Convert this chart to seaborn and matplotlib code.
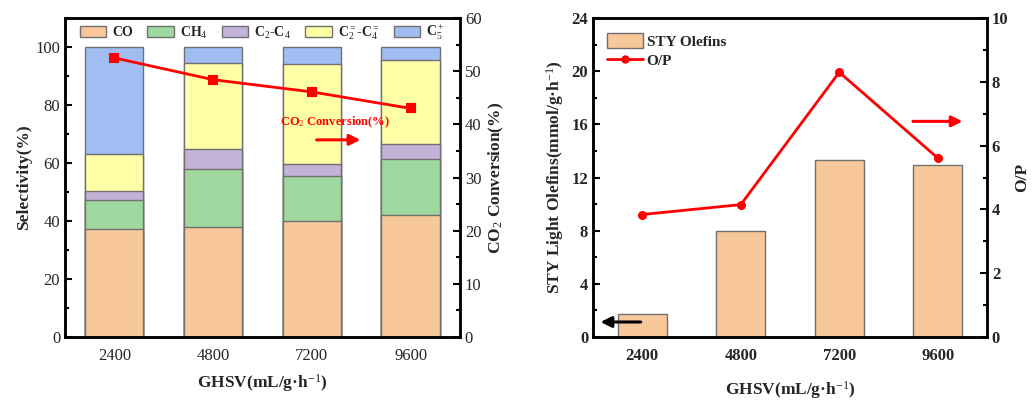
import numpy as np
import pandas as pd
import matplotlib
matplotlib.use("Agg")
import matplotlib.pyplot as plt
from matplotlib.patches import Patch
from matplotlib.lines import Line2D
from matplotlib.ticker import FixedLocator, MultipleLocator
import seaborn as sns

# ---------------- data ----------------
ghsv = ["2400", "4800", "7200", "9600"]
sel_co = [37.1, 38.0, 40.1, 42.1]
sel_ch4 = [10.0, 19.8, 15.5, 19.2]
sel_c2c4 = [3.3, 7.1, 4.2, 5.1]
sel_olef = [12.6, 29.7, 34.5, 29.2]
sel_c5 = [37.0, 5.4, 5.7, 4.4]
co2_conv = [52.5, 48.4, 46.1, 43.0]

sty_olefins = [1.76, 7.98, 13.35, 12.94]
op_ratio = [3.84, 4.15, 8.30, 5.61]

species = ["CO", "CH$_4$", "C$_2$-C$_4$", "C$_2^=$-C$_4^=$", "C$_5^+$"]
colors = ["#F9C89A", "#A0D9A0", "#C3B3D9", "#FFFFA8", "#A0BEF2"]

# ---------------- style ----------------
sns.set_theme(style="white")
plt.rcParams["font.family"] = ["Liberation Serif", "DejaVu Serif"]
plt.rcParams["mathtext.fontset"] = "custom"
plt.rcParams["mathtext.rm"] = "Liberation Serif"
plt.rcParams["mathtext.it"] = "Liberation Serif:italic"
plt.rcParams["mathtext.bf"] = "Liberation Serif:bold"

fig = plt.figure(figsize=(10.35, 4.03), dpi=100)
ax1 = fig.add_axes([0.0628, 0.1638, 0.3816, 0.7915])
ax3 = fig.add_axes([0.573, 0.1638, 0.3806, 0.7915])

edge = "#707070"

# ---------------- left panel: stacked selectivity ----------------
layers = [sel_co, sel_ch4, sel_c2c4, sel_olef, sel_c5]
cum = np.cumsum(np.array(layers), axis=0)
for i in range(len(layers) - 1, -1, -1):
    df = pd.DataFrame({"GHSV": ghsv, "val": cum[i]})
    sns.barplot(data=df, x="GHSV", y="val", order=ghsv, color=colors[i],
                saturation=1, width=0.59, edgecolor=edge, linewidth=1.0,
                ax=ax1)
ax1.set_xlim(-0.5, 3.5)
ax1.set_ylim(0, 110)
ax1.set_yticks([0, 20, 40, 60, 80, 100])
ax1.yaxis.set_minor_locator(MultipleLocator(10))
ax1.xaxis.set_minor_locator(FixedLocator([0.5, 1.5, 2.5]))
ax1.set_ylabel("Selectivity(%)", fontsize=12.5, fontweight="bold", labelpad=2)
ax1.set_xlabel("GHSV(mL/g·h$^{-1}$)", fontsize=12.5, fontweight="bold", labelpad=6)

ax2 = ax1.twinx()
dfc = pd.DataFrame({"GHSV": ghsv, "conv": co2_conv})
sns.pointplot(data=dfc, x="GHSV", y="conv", order=ghsv, color="#FF0000",
              markers="s", markersize=6, linewidth=2, ax=ax2)
ax2.set_xlim(-0.5, 3.5)
ax2.set_ylim(0, 60)
ax2.set_yticks([0, 10, 20, 30, 40, 50, 60])
ax2.yaxis.set_minor_locator(MultipleLocator(5))
ax2.set_ylabel("CO$_2$ Conversion(%)", fontsize=12.5, fontweight="bold", labelpad=4)
ax2.set_xlabel("")

handles = [Patch(facecolor=c, edgecolor=edge, linewidth=1.0) for c in colors]
leg = ax1.legend(handles, species, loc="upper center", bbox_to_anchor=(0.5, 1.015),
                 ncol=5, frameon=False, prop={"weight": "bold", "size": 10},
                 handlelength=1.9, handleheight=0.9, columnspacing=1.0,
                 handletextpad=0.45, borderaxespad=0.3)

ax2.annotate("CO$_2$ Conversion(%)", xy=(0.684, 0.674), xycoords="axes fraction",
             ha="center", va="center", color="#FF0000", fontsize=9,
             fontweight="bold")
ax2.annotate("", xy=(0.755, 0.618), xytext=(0.63, 0.618), xycoords="axes fraction",
             arrowprops=dict(arrowstyle="-|>", color="#FF0000", lw=2.2,
                             mutation_scale=16))

for ax in (ax1, ax2):
    for s in ax.spines.values():
        s.set_linewidth(1.8)
        s.set_color("black")
    ax.tick_params(which="both", direction="in", color="black", width=1.5,
                   labelsize=12)
    ax.tick_params(which="major", length=5)
    ax.tick_params(which="minor", length=3)
ax1.tick_params(axis="x", pad=8)

# ---------------- right panel: STY & O/P ----------------
dfs = pd.DataFrame({"GHSV": ghsv, "sty": sty_olefins})
sns.barplot(data=dfs, x="GHSV", y="sty", order=ghsv, color=colors[0],
            saturation=1, width=0.5, edgecolor=edge, linewidth=1.0, ax=ax3)
ax3.set_xlim(-0.5, 3.5)
ax3.set_ylim(0, 24)
ax3.set_yticks([0, 4, 8, 12, 16, 20, 24])
ax3.yaxis.set_minor_locator(MultipleLocator(2))
ax3.xaxis.set_minor_locator(FixedLocator([0.5, 1.5, 2.5]))
ax3.set_ylabel("STY Light Olefins(mmol/g·h$^{-1}$)", fontsize=12.5,
               fontweight="bold", labelpad=4)
ax3.set_xlabel("GHSV(mL/g·h$^{-1}$)", fontsize=12.5, fontweight="bold",
               labelpad=11)

ax4 = ax3.twinx()
dfo = pd.DataFrame({"GHSV": ghsv, "op": op_ratio})
sns.pointplot(data=dfo, x="GHSV", y="op", order=ghsv, color="#FF0000",
              markers="o", markersize=5, linewidth=2, ax=ax4)
ax4.set_xlim(-0.5, 3.5)
ax4.set_ylim(0, 10)
ax4.set_yticks([0, 2, 4, 6, 8, 10])
ax4.yaxis.set_minor_locator(MultipleLocator(1))
ax4.set_ylabel("O/P", fontsize=12.5, fontweight="bold", labelpad=4)
ax4.set_xlabel("")

h2 = [Patch(facecolor=colors[0], edgecolor=edge, linewidth=1.0),
      Line2D([], [], color="#FF0000", lw=2, marker="o", markersize=5)]
ax3.legend(h2, ["STY Olefins", "O/P"], loc="upper left", frameon=False,
           prop={"weight": "bold", "size": 11}, handlelength=2.4,
           handleheight=1.1, handletextpad=0.2, labelspacing=0.25,
           borderaxespad=0.5, bbox_to_anchor=(0.0, 0.995))

ax4.annotate("", xy=(0.012, 0.047), xytext=(0.128, 0.047), xycoords="axes fraction",
             arrowprops=dict(arrowstyle="-|>", color="black", lw=2.2,
                             mutation_scale=16))
ax4.annotate("", xy=(0.945, 0.676), xytext=(0.805, 0.676), xycoords="axes fraction",
             arrowprops=dict(arrowstyle="-|>", color="#FF0000", lw=2.2,
                             mutation_scale=16))

for ax in (ax3, ax4):
    for s in ax.spines.values():
        s.set_linewidth(1.8)
        s.set_color("black")
    ax.tick_params(which="both", direction="in", color="black", width=1.5,
                   labelsize=12)
    ax.tick_params(which="major", length=5)
    ax.tick_params(which="minor", length=3)
    for lab in ax.get_xticklabels() + ax.get_yticklabels():
        lab.set_fontweight("bold")
ax3.tick_params(axis="x", pad=8)

fig.savefig("out.png", dpi=100)
